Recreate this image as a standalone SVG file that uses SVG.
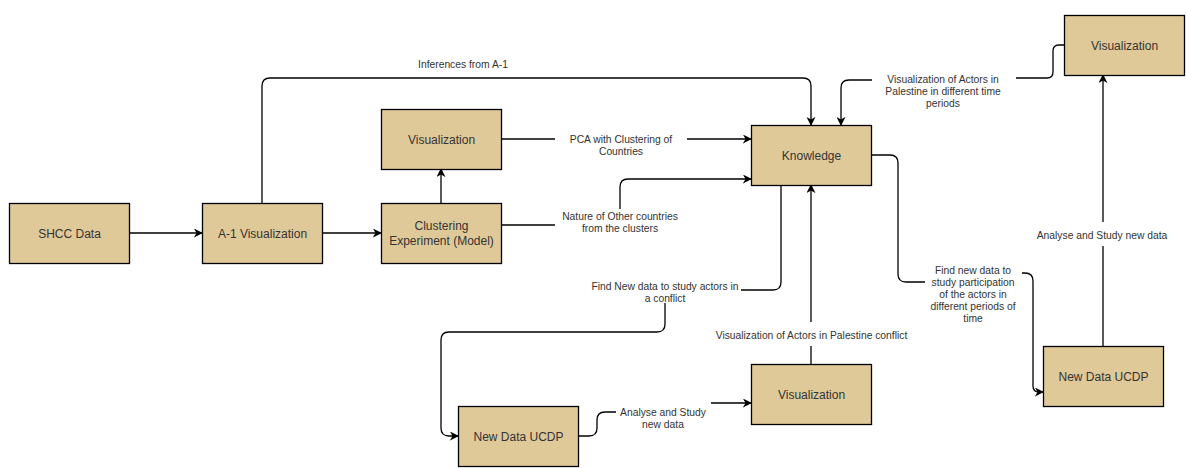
<svg xmlns="http://www.w3.org/2000/svg" width="1186" height="468" viewBox="0 0 1186 468">
<style>
.box{fill:#E0C999;stroke:#000;stroke-width:1.3}
.bt{font-family:"Liberation Sans",Arial,sans-serif;font-size:12px;fill:#333;text-anchor:middle}
.e{fill:none;stroke:#000;stroke-width:1.3}
.lb{fill:#fff}
.lt{font-family:"Liberation Sans",Arial,sans-serif;font-size:10.3px;fill:#333;text-anchor:middle}
</style>
<defs>
<marker id="ar" viewBox="0 0 10 10" refX="9" refY="5" markerWidth="9" markerHeight="9" markerUnits="userSpaceOnUse" orient="auto">
<path d="M0,0 L10,5 L0,10 L3,5 z" fill="#000"/>
</marker>
</defs>
<rect width="1186" height="468" fill="#fff"/>
<g id="connectors">
<path class="e" d="M129,233 H202" marker-end="url(#ar)"/>
<path class="e" d="M322,233 H381" marker-end="url(#ar)"/>
<path class="e" d="M441,203 V169" marker-end="url(#ar)"/>
<path class="e" d="M262,203 V86 Q262,78 270,78 H803 Q811,78 811,86 V125" marker-end="url(#ar)"/>
<text class="lt" x="463" y="67.7">Inferences from A-1</text>
<path class="e" d="M501,139 H751" marker-end="url(#ar)"/>
<rect class="lb" x="555" y="132" width="132" height="26"/>
<text class="lt" x="621" y="143">PCA with Clustering of</text>
<text class="lt" x="621" y="155">Countries</text>
<path class="e" d="M501,225 H620 V187 Q620,179 628,179 H751" marker-end="url(#ar)"/>
<rect class="lb" x="555" y="209" width="132" height="27"/>
<text class="lt" x="620" y="220.4">Nature of Other countries</text>
<text class="lt" x="620" y="232.4">from the clusters</text>
<path class="e" d="M781,185 V282 Q781,290 773,290 H665 V324 Q665,332 657,332 H449 Q441,332 441,340 V428 Q441,436 449,436 H458" marker-end="url(#ar)"/>
<rect class="lb" x="588" y="279" width="153" height="24"/>
<text class="lt" x="665" y="290.4">Find New data to study actors in</text>
<text class="lt" x="665" y="302.4">a conflict</text>
<path class="e" d="M578,436 H589 Q597,436 597,428 V420 Q597,412 605,412 H660 V403 H751" marker-end="url(#ar)"/>
<rect class="lb" x="616" y="400" width="95" height="31"/>
<text class="lt" x="663" y="416.4">Analyse and Study</text>
<text class="lt" x="663" y="428.4">new data</text>
<path class="e" d="M811,364 V185" marker-end="url(#ar)"/>
<rect class="lb" x="712" y="322" width="199" height="24"/>
<text class="lt" x="811.5" y="338.7">Visualization of Actors in Palestine conflict</text>
<path class="e" d="M871,155 H890 Q898,155 898,163 V274 Q898,282 906,282 H960 V273 H1025 Q1033,273 1033,281 V386 Q1033,392 1039,392 H1043" marker-end="url(#ar)"/>
<rect class="lb" x="925" y="263" width="97" height="62"/>
<text class="lt" x="973" y="273.7">Find new data to</text>
<text class="lt" x="973" y="285.7">study participation</text>
<text class="lt" x="973" y="297.7">of the actors in</text>
<text class="lt" x="973" y="309.7">different periods of</text>
<text class="lt" x="973" y="321.7">time</text>
<path class="e" d="M1103,346 V75" marker-end="url(#ar)"/>
<rect class="lb" x="1036" y="222" width="132" height="24"/>
<text class="lt" x="1102" y="238.7">Analyse and Study new data</text>
<path class="e" d="M1064,45 H1059 Q1053,45 1053,51 V72 Q1053,78 1047,78 H940 V80 H849 Q841,80 841,88 V125" marker-end="url(#ar)"/>
<rect class="lb" x="872" y="71" width="144" height="37"/>
<text class="lt" x="943" y="82.7">Visualization of Actors in</text>
<text class="lt" x="943" y="94.7">Palestine in different time</text>
<text class="lt" x="943" y="106.7">periods</text>
</g>
<g id="shcc"><rect class="box" x="9.5" y="203.5" width="120" height="60"/><text class="bt" x="69.5" y="237.5">SHCC Data</text></g>
<g id="a1"><rect class="box" x="202.5" y="203.5" width="120" height="60"/><text class="bt" x="262.5" y="237.5">A-1 Visualization</text></g>
<g id="clustering"><rect class="box" x="381.5" y="203.5" width="120" height="60"/><text class="bt" x="441.5" y="230">Clustering</text><text class="bt" x="441.5" y="245">Experiment (Model)</text></g>
<g id="vis1"><rect class="box" x="381.5" y="109.5" width="120" height="60"/><text class="bt" x="441.5" y="143.5">Visualization</text></g>
<g id="knowledge"><rect class="box" x="751.5" y="125.5" width="120" height="60"/><text class="bt" x="811.5" y="159.5">Knowledge</text></g>
<g id="vis2"><rect class="box" x="1064.5" y="15.5" width="120" height="60"/><text class="bt" x="1124.5" y="49.5">Visualization</text></g>
<g id="vis3"><rect class="box" x="751.5" y="364.5" width="120" height="60"/><text class="bt" x="811.5" y="398.5">Visualization</text></g>
<g id="ucdp1"><rect class="box" x="458.5" y="406.5" width="120" height="60"/><text class="bt" x="518.5" y="440.5">New Data UCDP</text></g>
<g id="ucdp2"><rect class="box" x="1043.5" y="346.5" width="120" height="60"/><text class="bt" x="1103.5" y="380.5">New Data UCDP</text></g>
</svg>
